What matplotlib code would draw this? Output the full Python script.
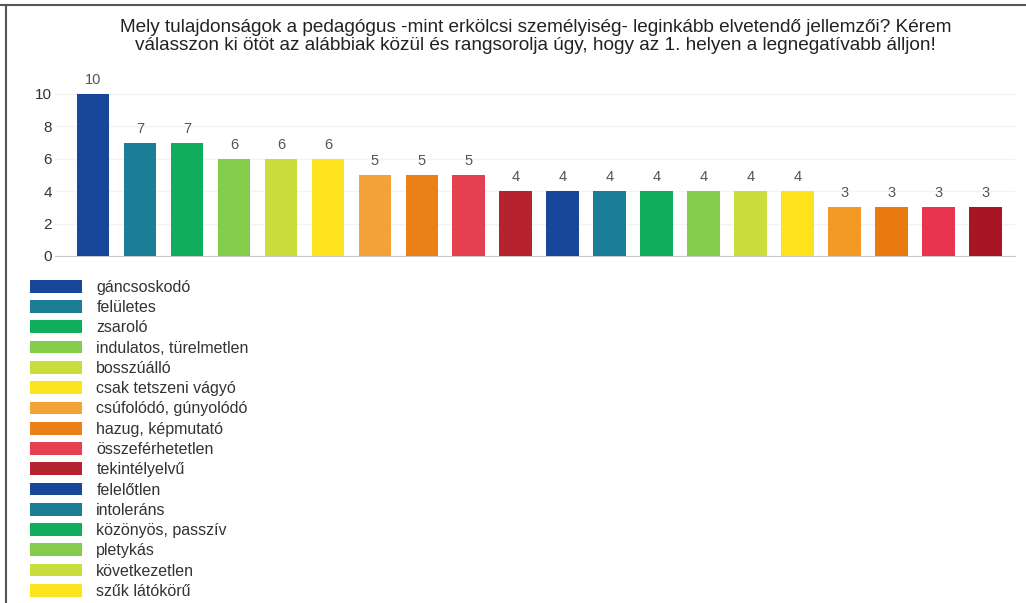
import matplotlib.pyplot as plt
from matplotlib.patches import Patch
from matplotlib.lines import Line2D

plt.rcParams['font.family'] = ['Liberation Sans', 'DejaVu Sans']

# answers, ordered by count
labels = ['gáncsoskodó', 'felületes', 'zsaroló', 'indulatos, türelmetlen',
          'bosszúálló', 'csak tetszeni vágyó', 'csúfolódó, gúnyolódó',
          'hazug, képmutató', 'összeférhetetlen', 'tekintélyelvű',
          'felelőtlen', 'intoleráns', 'közönyös, passzív', 'pletykás',
          'következetlen', 'szűk látókörű']
counts = [10, 7, 7, 6, 6, 6, 5, 5, 5, 4, 4, 4, 4, 4, 4, 4, 3, 3, 3, 3]
colors = ['#18479a', '#1c7d96', '#10ad5c', '#84cc4c', '#c9dd3c',
          '#fde31e', '#f2a236', '#e98018', '#e5404f', '#b6232f',
          '#18479a', '#1c7d96', '#10ad5c', '#84cc4c', '#c9dd3c',
          '#fde31e', '#f39a26', '#e87a10', '#e8344e', '#a81626']
yticks = [0, 2, 4, 6, 8, 10]

title = ('Mely tulajdonságok a pedagógus -mint erkölcsi személyiség- leginkább elvetendő jellemzői? Kérem\n'
         'válasszon ki ötöt az alábbiak közül és rangsorolja úgy, hogy az 1. helyen a legnegatívabb álljon!')

fig = plt.figure(figsize=(10.26, 6.03), dpi=100)
ax = fig.add_axes([0.0536, 0.5755, 0.9356, 0.2955])

x = list(range(len(counts)))
bars = ax.bar(x, counts, width=0.7, color=colors, zorder=3)
for xi, v in zip(x, counts):
    ax.annotate(str(v), (xi, v), xytext=(0, 5), textcoords='offset points',
                ha='center', va='bottom', fontsize=10.5, color='#555555')

ax.set_xlim(-0.81, len(counts) - 1 + 0.62)
ax.set_ylim(0, 11)
ax.set_yticks(yticks)
ax.set_xticks([])
ax.tick_params(axis='y', length=0, labelsize=11, labelcolor='#333333', pad=2)
ax.yaxis.grid(True, color='#f3f3f3', lw=1, zorder=0)
for s in ['top', 'right', 'left']:
    ax.spines[s].set_visible(False)
ax.spines['bottom'].set_color('#c8c8c8')

fig.text(0.522, 0.969, title, ha='center', va='top', fontsize=13.7,
         color='#222222', linespacing=1.12)

handles = [Patch(facecolor=c) for c in colors[:len(labels)]]
fig.legend(handles, labels, loc='upper left', bbox_to_anchor=(0.029, 0.536),
           frameon=False, fontsize=11.5, handlelength=3.3, handleheight=0.85,
           labelspacing=0.33, handletextpad=0.87, borderaxespad=0,
           borderpad=0, labelcolor='#333333')

# screenshot frame
fig.add_artist(Line2D([0, 1], [0.9925, 0.9925], color='#555555', lw=1.5))
fig.add_artist(Line2D([0.006, 0.006], [0, 0.9925], color='#555555', lw=1.5))

fig.savefig('out.png', dpi=100)
